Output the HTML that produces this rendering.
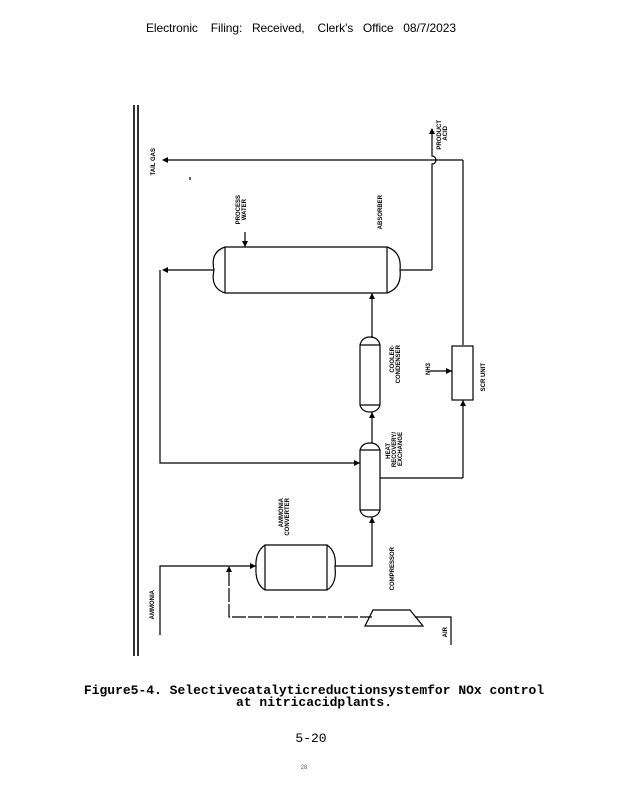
<!DOCTYPE html>
<html><head><meta charset="utf-8"><style>
html,body{margin:0;padding:0;background:#fff;width:618px;height:800px;overflow:hidden}
svg{position:absolute;left:0;top:0}
</style></head><body>
<svg width="618" height="800" viewBox="0 0 618 800" xmlns="http://www.w3.org/2000/svg">
<text x="146" y="32" font-family="Liberation Sans, sans-serif" font-size="12" textLength="310" lengthAdjust="spacing" xml:space="preserve">Electronic    Filing:   Received,    Clerk's   Office   08/7/2023</text>
<g stroke="#000" fill="none" stroke-width="1.2">
<line x1="134" y1="105" x2="134" y2="656" stroke-width="1.6"/>
<line x1="138" y1="105" x2="138" y2="656" stroke-width="1.6"/>
<line x1="163" y1="160" x2="463" y2="160"/>
<path d="M432 270 V164 a3 3 0 0 0 0 -8 V130"/>
<line x1="463" y1="160" x2="463" y2="345"/>
<rect x="452" y="346" width="21" height="54"/>
<line x1="463" y1="400" x2="463" y2="478"/>
<line x1="463" y1="478" x2="380" y2="478"/>
<line x1="430" y1="371" x2="452" y2="371"/>
<line x1="225" y1="247" x2="387" y2="247"/>
<line x1="225" y1="293" x2="387" y2="293"/>
<path d="M225 247 Q210 252 214 270 Q210 288 225 293"/>
<path d="M387 247 Q402 252 400 270 Q402 288 387 293"/>
<line x1="225" y1="247" x2="225" y2="293"/>
<line x1="387" y1="247" x2="387" y2="293"/>
<line x1="400" y1="270" x2="432" y2="270"/>
<line x1="245" y1="232" x2="245" y2="247"/>
<line x1="163" y1="270" x2="214" y2="270"/>
<path d="M160 270 V463 H360"/>
<line x1="372" y1="293" x2="372" y2="338"/>
<path d="M360 345 Q362 337 370 337 Q378 337 380 345 V405 Q378 412 370 412 Q362 412 360 405 Z"/>
<line x1="360" y1="345" x2="380" y2="345"/><line x1="360" y1="405" x2="380" y2="405"/>
<line x1="372" y1="412" x2="372" y2="443"/>
<path d="M360 450 Q362 443 370 443 Q378 443 380 450 V510 Q378 517 370 517 Q362 517 360 510 Z"/>
<line x1="360" y1="450" x2="380" y2="450"/><line x1="360" y1="510" x2="380" y2="510"/>
<path d="M372 517 V566 H335"/>
<path d="M265 545 H327 Q337 552 335 567 Q337 584 327 590 H265 Q255 584 256 567 Q255 552 265 545 Z"/>
<line x1="265" y1="545" x2="265" y2="590"/><line x1="327" y1="545" x2="327" y2="590"/>
<path d="M160 635 V566 H256"/>
<path d="M229 572 V617 H372" stroke-dasharray="14 2"/>
<path d="M373 610 H410 L423 626 H365 Z"/>
<path d="M415 617 H451 V645"/>
<line x1="190" y1="177" x2="190" y2="180"/>
</g>
<g fill="#000">
<path d="M162 160 l6 -3 v6z"/><path d="M432 128 l-3 6 h6z"/>
<path d="M162 270 l6 -3 v6z"/><path d="M452 371 l-6 -3 v6z"/>
<path d="M245 247 l-3 -6 h6z"/><path d="M372 293 l-3 6 h6z"/>
<path d="M360 463 l-6 -3 v6z"/><path d="M256 566 l-6 -3 v6z"/>
<path d="M229 566 l-3 6 h6z"/><path d="M463 400 l-3 6 h6z"/>
<path d="M372 412 l-3 6 h6z"/><path d="M372 517 l-3 6 h6z"/>
</g>
<g font-family="Liberation Sans, sans-serif" font-size="6" font-weight="bold" text-anchor="end">
<text transform="translate(155,148) rotate(-90)">TAIL GAS</text>
<text transform="translate(441,120) rotate(-90)">PRODUCT</text>
<text transform="translate(447,126) rotate(-90)">ACID</text>
<text transform="translate(240,195) rotate(-90)">PROCESS</text>
<text transform="translate(246,199) rotate(-90)">WATER</text>
<text transform="translate(382,195) rotate(-90)">ABSORBER</text>
<text transform="translate(394,345) rotate(-90)">COOLER-</text>
<text transform="translate(400,345) rotate(-90)">CONDENSER</text>
<text transform="translate(430,363) rotate(-90)">NH3</text>
<text transform="translate(485,363) rotate(-90)">SCR UNIT</text>
<text transform="translate(390,443) rotate(-90)">HEAT</text>
<text transform="translate(396,432) rotate(-90)">RECOVERY/</text>
<text transform="translate(402,432) rotate(-90)">EXCHANGE</text>
<text transform="translate(283,498) rotate(-90)">AMMONIA</text>
<text transform="translate(289,498) rotate(-90)">CONVERTER</text>
<text transform="translate(394,547) rotate(-90)">COMPRESSOR</text>
<text transform="translate(154,590) rotate(-90)">AMMONIA</text>
<text transform="translate(447,627) rotate(-90)">AIR</text>
</g>
<text x="314" y="694" font-family="Liberation Mono, monospace" font-size="13" font-weight="bold" text-anchor="middle">Figure5-4. Selectivecatalyticreductionsystemfor NOx control</text>
<text x="314" y="706" font-family="Liberation Mono, monospace" font-size="13" font-weight="bold" text-anchor="middle">at nitricacidplants.</text>
<text x="311" y="742" font-family="Liberation Mono, monospace" font-size="13" text-anchor="middle">5-20</text>
<text x="304" y="769" font-family="Liberation Sans, sans-serif" font-size="6" fill="#55a" text-anchor="middle">28</text>
</svg>
</body></html>
